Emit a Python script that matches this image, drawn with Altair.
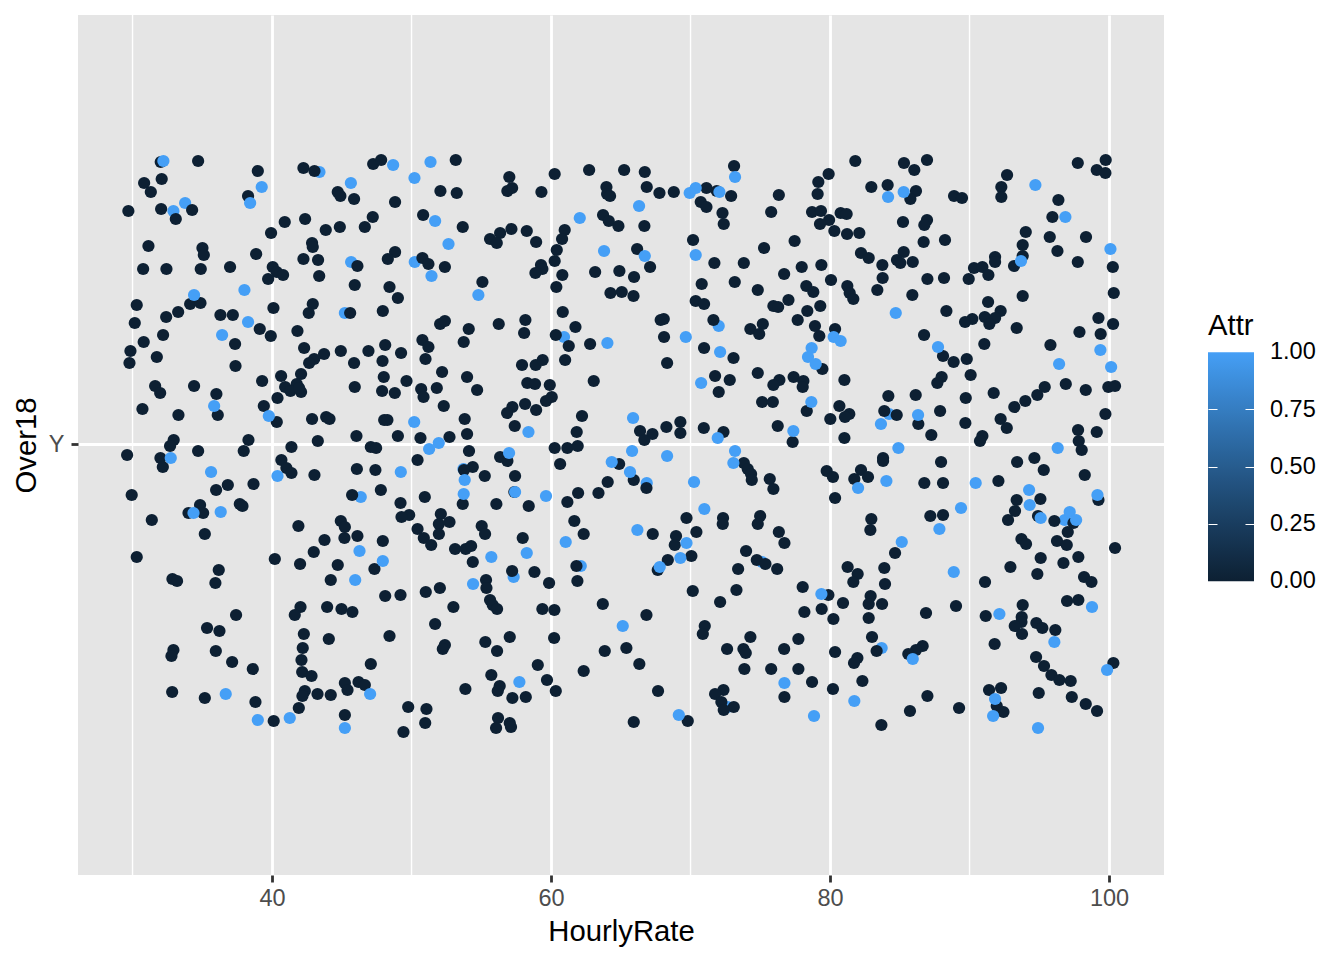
import altair as alt
import pandas as pd

# (HourlyRate, vertical jitter around the single "Y" category)
dark_a = [(32.02,282),(34.70,283),(38.98,273),(42.25,276),(43.04,273),(47.25,280),(47.82,284),(30.83,261),(32.09,265),(31.31,252),(38.28,248),(44.71,252),(44.90,248),(45.88,245),(48.82,242),(52.07,253),(29.70,233),(32.05,235),(34.27,234),(33.10,225),(40.91,222),(42.37,225),(43.85,214),(44.86,217),(46.65,217),(47.22,227),(50.83,229),(39.93,211),(31.14,198),(35.01,196),(35.11,189),(42.87,201),(42.92,197),(38.86,190),(42.25,185),(43.30,184),(48.82,192),(48.30,185),(50.78,186),(51.21,180),(52.39,177),(30.76,175),(32.43,175),(34.89,175),(36.99,177),(40.05,177),(40.34,172),(40.79,169),(39.72,165),(43.38,168),(46.12,178),(45.93,159),(48.42,157),(49.02,146),(30.30,139),(34.13,140),(34.87,141),(33.27,132),(32.41,127),(36.30,129),(37.19,129),(40.10,136),(42.92,140),(42.63,131),(45.60,131),(47.94,133),(52.05,120),(52.39,123),(30.16,121),(39.12,115),(39.91,108),(41.82,113),(32.19,109),(30.80,102),(37.35,100),(42.30,96),(29.85,93),(31.74,87),(29.78,81),(37.38,78),(44.93,93),(43.73,90),(43.02,85),(42.66,81),(46.91,93),(48.11,99),(49.25,91),(47.92,83),(45.88,81),(50.78,104),(51.21,97),(51.00,85),(52.19,72),(39.29,63),(40.65,68),(42.08,70),(48.01,67),(49.64,63),(31.62,58),(31.98,51),(34.41,58),(36.01,50),(40.94,57),(41.77,60),(41.32,53),(42.08,52),(41.94,56),(45.93,57),(47.89,53),(48.80,51),(50.69,55),(50.86,47),(51.81,56),(40.39,46),(39.41,38),(52.31,38),(30.71,35),(33.29,29),(36.11,29),(40.34,22),(42.87,25),(43.88,27),(44.12,25),(48.04,24),(48.27,24),(43.28,3),(46.05,8),(49.02,8),(50.64,6),(52.72,7),(38.31,4),(32.95,4)]
dark_b = [(53.17,284),(57.01,267),(60.26,270),(62.73,274),(65.24,274),(66.72,272),(73.12,278),(53.24,251),(56.87,253),(57.21,256),(59.31,252),(63.97,257),(64.02,250),(64.23,248),(66.86,257),(67.77,251),(68.80,252),(71.14,256),(71.88,253),(72.91,248),(76.33,249),(70.73,242),(71.14,237),(72.29,231),(75.78,232),(53.67,217),(57.16,215),(58.26,213),(56.35,211),(55.63,205),(56.11,201),(58.93,202),(60.98,214),(60.79,205),(63.73,229),(64.14,223),(64.83,218),(66.69,218),(72.38,220),(70.18,204),(60.41,194),(60.26,183),(66.17,195),(75.27,196),(67.10,177),(71.71,181),(73.82,181),(59.28,179),(59.38,175),(58.88,171),(60.81,169),(63.16,172),(64.90,173),(65.95,167),(76.71,170),(55.08,162),(60.38,157),(64.26,151),(65.07,152),(65.91,148),(70.80,160),(73.17,162),(74.82,154),(70.37,143),(70.97,140),(77.02,144),(75.94,138),(76.28,137),(60.84,132),(58.16,124),(56.25,120),(67.86,124),(68.08,125),(71.64,124),(75.18,120),(74.29,115),(74.92,110),(61.75,117),(54.10,115),(58.07,111),(60.34,109),(68.10,107),(53.74,102),(61.27,98),(62.80,100),(70.97,96),(73.08,86),(57.92,79),(58.90,79),(59.40,84),(61.01,84),(68.32,81),(74.82,71),(71.76,68),(72.81,64),(53.98,67),(58.30,61),(58.85,60),(59.91,59),(63.06,63),(76.37,64),(75.94,59),(54.70,54),(72.02,52),(59.64,43),(60.05,47),(58.14,40),(58.93,34),(57.23,37),(56.85,31),(75.13,42),(75.90,42),(62.22,28),(53.81,25),(57.40,18),(69.27,22),(68.27,17),(70.95,16),(76.25,18),(66.38,13),(67.27,10),(66.69,4),(69.27,11),(72.36,12),(61.84,12),(53.98,10)]
dark_c = [(81.81,283),(85.30,281),(86.04,274),(86.95,284),(97.76,281),(99.76,284),(99.12,274),(99.74,271),(79.90,270),(92.69,269),(79.16,262),(79.11,250),(82.96,257),(84.13,259),(86.16,253),(85.76,245),(92.28,257),(92.28,247),(88.89,248),(89.46,246),(96.37,244),(78.71,232),(79.35,233),(80.76,231),(81.19,230),(79.93,224),(79.28,220),(85.23,222),(86.95,224),(86.76,219),(95.94,227),(80.31,213),(81.22,210),(82.10,211),(94.03,212),(77.46,203),(86.71,202),(88.24,204),(95.75,207),(98.35,207),(93.81,199),(96.30,193),(82.22,191),(82.77,186),(85.28,192),(84.80,184),(85.04,181),(85.93,182),(93.81,188),(91.83,187),(91.83,182),(93.19,178),(97.76,182),(100.27,177),(77.97,177),(79.38,179),(83.75,179),(90.32,176),(90.92,177),(91.35,169),(83.77,166),(86.98,165),(88.17,166),(89.94,165),(80.07,164),(78.30,158),(78.80,152),(81.24,158),(81.41,151),(81.67,145),(83.39,154),(85.90,149),(100.34,151),(93.81,148),(91.33,142),(79.30,138),(78.37,133),(88.34,133),(92.23,133),(77.68,124),(91.09,127),(91.83,126),(91.42,120),(90.20,125),(89.68,122),(99.24,126),(100.29,120),(78.92,118),(80.36,115),(93.38,116),(97.88,112),(99.40,110),(79.23,108),(86.74,109),(91.06,100),(95.80,99),(88.10,88),(88.86,82),(89.80,85),(79.45,75),(90.08,69),(88.00,67),(87.69,61),(77.39,67),(78.09,63),(78.04,57),(81.03,64),(96.90,60),(95.39,57),(94.86,49),(94.00,43),(93.21,37),(98.33,54),(99.95,57),(100.43,58),(84.18,48),(86.14,49),(89.73,46),(91.73,51),(80.67,38),(78.33,33),(83.89,33),(84.78,29),(81.38,30),(81.07,27),(87.89,33),(99.74,30),(80.02,25),(86.33,20),(89.70,21),(92.23,25),(92.67,16),(97.78,14),(99.12,12),(87.26,9),(90.92,8),(90.75,3),(81.03,6),(77.32,2),(97.83,3)]
dark_d = [(32.69,-2),(41.39,-3),(47.08,-3),(47.46,-4),(34.70,-7),(37.97,-7),(29.61,-11),(32.00,-14),(32.17,-23),(40.67,-16),(41.03,-24),(41.39,-29),(50.43,-16),(43.04,-31),(46.08,-25),(47.41,-26),(38.67,-40),(36.83,-41),(35.99,-46),(29.94,-51),(47.80,-46),(45.74,-51),(50.95,-53),(49.21,-59),(34.84,-61),(34.01,-69),(35.06,-69),(37.69,-60),(37.88,-62),(31.38,-76),(49.83,-71),(49.28,-73),(52.10,-70),(51.96,-80),(52.72,-78),(44.93,-77),(45.22,-83),(41.89,-82),(35.18,-90),(45.19,-94),(46.12,-92),(43.76,-96),(50.43,-85),(50.88,-94),(51.96,-90),(51.41,-101),(47.94,-97),(42.99,-108),(30.30,-113),(40.20,-115),(42.01,-120),(44.71,-121),(47.34,-125),(36.18,-126),(32.86,-135),(33.19,-137),(35.94,-139),(44.21,-136),(48.11,-152),(49.21,-151),(51.02,-148),(52.03,-144),(42.04,-163),(41.63,-171),(43.95,-163),(44.98,-165),(45.76,-168),(37.42,-171),(51.69,-180),(35.34,-184),(36.23,-187),(42.28,-190),(44.07,-195),(48.42,-192),(52.39,-201),(52.24,-205),(32.93,-206),(32.79,-212),(42.20,-204),(35.97,-207),(42.11,-216),(37.14,-218),(38.62,-225),(47.08,-220),(42.16,-228),(42.83,-232),(45.22,-239),(46.20,-238),(46.65,-241),(45.41,-246),(42.35,-247),(42.18,-252),(43.26,-250),(44.21,-251),(32.84,-248),(35.18,-254),(38.81,-258),(41.92,-264),(49.76,-263),(51.07,-265),(45.22,-271),(40.12,-277),(50.98,-279),(49.42,-288)]
dark_e = [(54.12,-7),(56.35,-13),(56.87,-17),(54.39,-23),(53.76,-26),(55.25,-32),(57.42,-32),(57.37,-48),(60.26,-4),(61.17,-4),(61.91,-2),(60.65,-20),(64.88,-20),(65.93,-36),(64.06,-38),(63.40,-49),(61.94,-49),(61.17,-58),(66.84,-44),(53.67,-60),(56.08,-60),(58.40,-62),(73.82,-19),(74.10,-25),(74.34,-30),(74.39,-36),(75.68,-35),(75.94,-45),(61.67,-77),(62.34,-90),(69.71,-74),(72.33,-74),(72.31,-80),(74.99,-72),(74.82,-80),(70.42,-88),(76.33,-88),(76.73,-99),(55.03,-82),(55.27,-90),(57.97,-94),(53.12,-105),(53.88,-105),(54.27,-102),(67.29,-90),(68.96,-92),(68.87,-101),(73.98,-107),(70.06,-112),(68.37,-116),(74.75,-116),(75.37,-120),(76.21,-125),(73.41,-125),(67.65,-126),(54.39,-118),(61.82,-122),(57.21,-127),(58.81,-128),(61.89,-137),(59.86,-139),(55.34,-136),(55.37,-144),(73.29,-146),(70.16,-147),(72.12,-158),(55.63,-156),(55.82,-161),(56.13,-165),(53.00,-163),(59.38,-165),(60.24,-166),(63.71,-160),(66.84,-171),(71.02,-182),(70.88,-190),(74.29,-193),(57.04,-193),(60.22,-194),(55.29,-198),(56.13,-207),(63.85,-207),(65.40,-204),(72.62,-205),(73.79,-205),(73.96,-209),(76.71,-205),(59.05,-221),(66.33,-220),(73.86,-225),(75.78,-225),(62.34,-227),(55.72,-231),(59.71,-236),(56.32,-242),(56.18,-247),(53.86,-245),(57.23,-254),(58.19,-253),(60.34,-247),(67.67,-247),(72.36,-246),(71.76,-250),(76.73,-253),(72.21,-258),(73.10,-263),(72.38,-266),(56.20,-274),(57.04,-279),(57.13,-283),(56.06,-284),(65.93,-278),(69.80,-277)]
dark_f = [(98.04,-6),(83.80,-14),(83.80,-17),(87.96,-18),(93.41,-18),(94.65,-14),(95.32,-26),(79.76,-27),(80.21,-33),(82.22,-26),(81.74,-35),(82.72,-33),(86.76,-39),(88.10,-39),(92.07,-37),(98.26,-31),(80.36,-54),(93.38,-56),(95.08,-55),(99.24,-56),(93.26,-67),(92.76,-76),(82.96,-75),(87.19,-72),(88.10,-71),(94.91,-72),(96.08,-77),(97.45,-79),(82.89,-86),(97.04,-88),(96.27,-97),(96.97,-101),(93.72,-95),(94.05,-100),(100.43,-104),(84.66,-109),(95.10,-114),(97.80,-113),(96.73,-119),(92.93,-123),(81.26,-123),(83.89,-124),(81.98,-130),(81.67,-138),(83.94,-140),(94.86,-130),(98.21,-133),(98.74,-138),(91.11,-138),(78.04,-143),(79.88,-151),(82.91,-152),(82.77,-160),(83.73,-160),(80.93,-159),(79.40,-165),(78.16,-168),(80.24,-175),(82.77,-174),(86.88,-169),(89.03,-162),(91.16,-172),(93.81,-161),(96.99,-157),(97.80,-156),(93.74,-173),(93.72,-178),(93.24,-182),(94.79,-179),(95.22,-184),(96.15,-186),(93.76,-190),(77.73,-195),(83.01,-193),(91.80,-200),(83.34,-207),(86.64,-202),(86.16,-206),(85.61,-210),(80.36,-208),(81.96,-214),(81.72,-219),(77.73,-225),(94.77,-213),(95.34,-222),(95.87,-231),(96.44,-236),(97.25,-237),(100.31,-219),(78.71,-238),(82.32,-237),(80.21,-245),(91.40,-246),(92.26,-244),(94.96,-249),(86.98,-252),(97.33,-253),(98.33,-260),(85.73,-267),(89.25,-264),(91.95,-262),(92.43,-268),(99.14,-267),(83.68,-281)]
light_under = [(43.40,272),(32.93,233),(33.77,241),(45.67,182),(50.23,182),(45.22,131),(60.93,107),(72.02,118),(84.23,30),(46.36,-53),(53.72,-25),(66.86,-39),(62.13,-122),(57.32,-133),(75.13,-118),(72.67,-263),(83.70,-204),(96.82,-76)]
light_over = [(32.21,283),(48.68,279),(51.36,282),(50.21,266),(45.65,261),(39.26,257),(38.43,241),(51.69,223),(52.65,200),(51.43,168),(38.02,154),(34.41,149),(38.28,122),(36.42,109),(35.85,38),(39.77,28),(50.19,22),(51.95,1),
(62.06,226),(66.31,238),(70.37,256),(69.94,251),(72.07,252),(73.19,267),(63.80,193),(66.72,188),(70.37,189),(54.79,149),(69.66,107),(64.04,101),(72.12,92),(70.76,61),(65.88,26),(58.38,12),(71.95,6),
(94.72,259),(85.28,252),(84.16,247),(96.87,227),(100.10,195),(93.69,183),(84.71,131),(80.26,107),(80.76,103),(78.68,96),(78.42,87),(78.97,80),(87.74,97),(96.42,80),(99.38,94),(100.15,77),(78.66,42),(86.31,29),(83.65,20),(77.37,13),
(32.74,-14),(35.63,-28),(40.39,-32),(49.23,-28),(51.26,-5),(34.37,-69),(36.32,-68),(46.27,-107),(47.94,-117),(45.96,-136),(36.68,-250),(47.03,-250),(38.98,-276),(41.27,-274),(45.22,-284),
(56.99,-9),(65.81,-7),(68.32,-12),(73.19,-7),(73.07,-19),(64.35,-18),(65.66,-28),(53.81,-36),(53.74,-50),(57.42,-48),(59.64,-52),(70.25,-38),(70.99,-65),(61.05,-98),(66.19,-86),(69.71,-99),(69.27,-114),(55.72,-113),(58.26,-109),(54.41,-140),(67.79,-123),(65.14,-182),(57.73,-238),(76.73,-239),(69.16,-271),
(84.90,-4),(96.32,-4),(84.04,-37),(82.01,-44),(90.44,-39),(94.27,-46),(94.31,-61),(99.17,-51),(89.39,-64),(95.10,-74),(97.18,-68),(97.64,-76),(87.84,-85),(85.14,-98),(88.87,-128),(79.38,-150),(92.14,-170),(98.78,-163),(96.08,-198),(85.93,-215),(99.86,-226),(91.83,-255),(91.69,-272),(81.74,-257),(78.85,-272),(94.91,-284)]

major_ticks = [40, 60, 80, 100]
minor_ticks = [30, 50, 70, 90]
legend_ticks = [0, 0.25, 0.5, 0.75, 1]
inner_ticks = [0.25, 0.5, 0.75]

rows = [(r, j, 1) for r, j in light_under]
for group in (dark_a, dark_b, dark_c, dark_d, dark_e, dark_f):
    rows += [(r, j, 0) for r, j in group]
rows += [(r, j, 1) for r, j in light_over]
df = pd.DataFrame(rows, columns=["HourlyRate", "jitter", "Attr"])

FONT = "Liberation Sans"
xscale = alt.Scale(domain=[26.09, 103.94], nice=False, zero=False)
yscale = alt.Scale(domain=[-431, 429], nice=False, zero=False)

x_axis = alt.Axis(values=major_ticks, grid=True, gridColor="white", gridWidth=2.8,
                  domain=False, tickColor="#333333", tickSize=7, tickWidth=2.8,
                  labelColor="#4D4D4D", labelFontSize=23.5, labelFont=FONT, labelPadding=4,
                  titleColor="black", titleFontSize=29.3, titleFont=FONT, titleFontWeight="normal",
                  titlePadding=8, format="d", labelOverlap=False)

minor = alt.Chart(pd.DataFrame({"m": minor_ticks})).mark_rule(color="white", strokeWidth=1.4).encode(
    x=alt.X("m:Q", scale=xscale, title="HourlyRate", axis=x_axis)
)

points = alt.Chart(df).mark_circle(size=150, opacity=1).encode(
    x=alt.X("HourlyRate:Q", scale=xscale, title="HourlyRate", axis=x_axis),
    y=alt.Y("jitter:Q", scale=yscale, title="Over18",
            axis=alt.Axis(values=[0], labelExpr="'Y'", grid=True, gridColor="white", gridWidth=2.8,
                          domain=False, tickColor="#333333", tickSize=7, tickWidth=2.8,
                          labelColor="#4D4D4D", labelFontSize=23.5, labelFont=FONT, labelPadding=7,
                          titleColor="black", titleFontSize=29.3, titleFont=FONT, titleFontWeight="normal",
                          titlePadding=7)),
    color=alt.Color("Attr:Q", scale=alt.Scale(domain=[-0.0005, 1.0005], range=["#0D2033", "#459FF6"]),
                    legend=alt.Legend(title="Attr", orient="none", legendX=1130, legendY=297,
                                      values=legend_ticks, format=".2f", gradientLength=229,
                                      gradientThickness=46, labelFontSize=23.5, labelFont=FONT,
                                      labelColor="black", labelOffset=16, labelOverlap=False,
                                      titleFontSize=29.3, titleFont=FONT,
                                      titleFontWeight="normal", titleColor="black", titlePadding=11)),
)

# white tick marks across the colour bar, drawn by an axis that shares the bar's position
bar_ticks = alt.Chart(pd.DataFrame({"t": inner_ticks})).mark_point(opacity=0).encode(
    y=alt.Y("t:Q", title=None, scale=alt.Scale(domain=[-1.2838, 2.4716], nice=False, zero=False),
            axis=alt.Axis(orient="right", offset=44, values=inner_ticks, labels=False, grid=False,
                          domain=False, tickColor="white", tickSize=46, tickWidth=1.2,
                          tickDash=[9, 28, 9], zindex=1, title=None))
)

chart = alt.layer(minor, points, bar_ticks).resolve_scale(y="independent").properties(
    width=1086, height=860,
    padding={"left": 70, "top": 7, "right": 170, "bottom": 75},
    autosize=alt.AutoSizeParams(type="none"),
    background="white",
).configure_view(stroke=None, fill="#E5E5E5")

chart.save("out.html", embed_options={"renderer": "svg", "actions": False})
